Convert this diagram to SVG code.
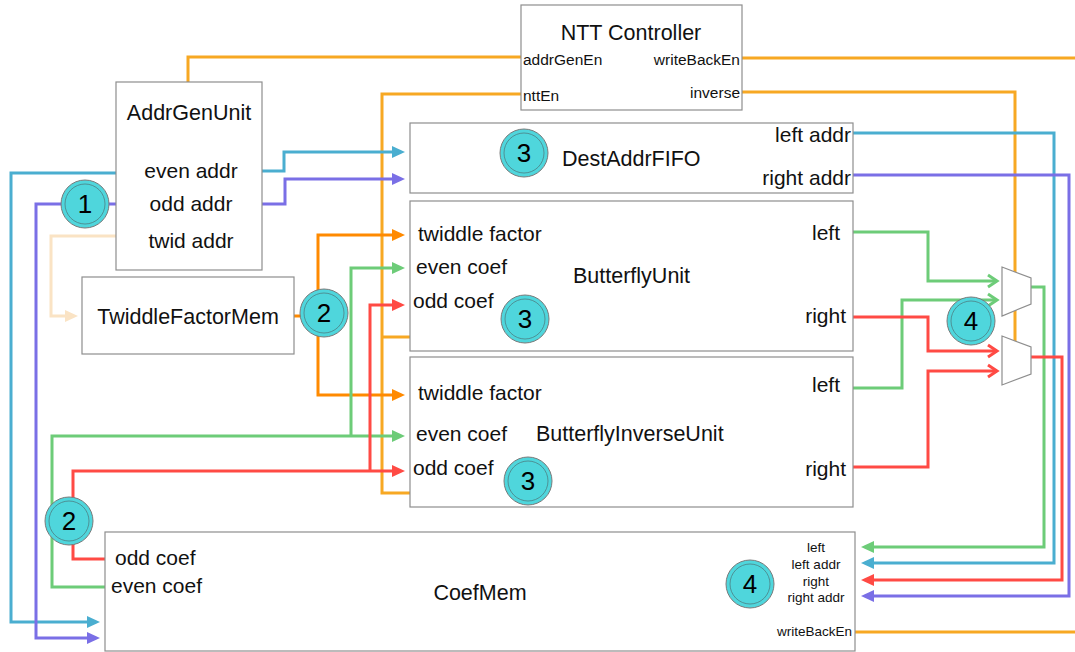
<svg xmlns="http://www.w3.org/2000/svg" width="1075" height="652" viewBox="0 0 1075 652">
  <style>
    .box { fill: #ffffff; stroke: #8e8e8e; stroke-width: 1.2; }
    .mux { fill: #ffffff; stroke: #8e8e8e; stroke-width: 1.2; }
    .t { font-family: "Liberation Sans", Arial, sans-serif; fill: #111; }
    .title { font-size: 21.5px; }
    .port { font-size: 21px; }
    .small { font-size: 15.5px; }
    .tiny { font-size: 13.5px; }
    .mid { text-anchor: middle; }
    .end { text-anchor: end; }
    .w { fill: none; stroke-width: 3; stroke-linejoin: miter; }
    .blue { stroke: #4AAED0; }
    .purple { stroke: #7A6FE6; }
    .green { stroke: #6DCC78; }
    .red { stroke: #FF4A44; }
    .orange { stroke: #FF8A00; }
    .gold { stroke: #F7A823; }
    .beige { stroke: #FAE3C4; }
    .badge { fill: #4FD6DC; stroke: #7a7a7a; stroke-width: 1; }
    .ring { fill: none; stroke: #4d7f83; stroke-width: 0.8; }
    .num { font-family: "Liberation Sans", Arial, sans-serif; font-size: 26px; fill: #000; text-anchor: middle; }
  </style>
  <defs>
    <marker id="aBlue" markerUnits="userSpaceOnUse" markerWidth="13" markerHeight="12" refX="1" refY="6" orient="auto"><path d="M0,0 L13,6 L0,12 z" fill="#4AAED0"/></marker>
    <marker id="aPurple" markerUnits="userSpaceOnUse" markerWidth="13" markerHeight="12" refX="1" refY="6" orient="auto"><path d="M0,0 L13,6 L0,12 z" fill="#7A6FE6"/></marker>
    <marker id="aGreen" markerUnits="userSpaceOnUse" markerWidth="13" markerHeight="12" refX="1" refY="6" orient="auto"><path d="M0,0 L13,6 L0,12 z" fill="#6DCC78"/></marker>
    <marker id="aRed" markerUnits="userSpaceOnUse" markerWidth="13" markerHeight="12" refX="1" refY="6" orient="auto"><path d="M0,0 L13,6 L0,12 z" fill="#FF4A44"/></marker>
    <marker id="aOrange" markerUnits="userSpaceOnUse" markerWidth="13" markerHeight="12" refX="1" refY="6" orient="auto"><path d="M0,0 L13,6 L0,12 z" fill="#FF8A00"/></marker>
    <marker id="aBeige" markerUnits="userSpaceOnUse" markerWidth="13" markerHeight="12" refX="1" refY="6" orient="auto"><path d="M0,0 L13,6 L0,12 z" fill="#FAE3C4"/></marker>
    <marker id="cGreen" markerUnits="userSpaceOnUse" markerWidth="14" markerHeight="16" refX="11" refY="8" orient="auto"><path d="M2,2 L11,8 L2,14" fill="none" stroke="#6DCC78" stroke-width="3"/></marker>
    <marker id="cRed" markerUnits="userSpaceOnUse" markerWidth="14" markerHeight="16" refX="11" refY="8" orient="auto"><path d="M2,2 L11,8 L2,14" fill="none" stroke="#FF4A44" stroke-width="3"/></marker>
  </defs>

  <g id="connectors">
    <!-- controller enables -->
    <path class="w gold" d="M521,57 H188 V82"/>
    <path class="w gold" d="M521,94 H382 V493 H410 M382,337 H410"/>
    <path class="w gold" d="M742,58 H1075"/>
    <path class="w gold" d="M855,632 H1075"/>
    <path class="w gold" d="M742,92 H1015 V341"/>
    <!-- address generator outputs -->
    <path class="w blue" d="M262,171 H284 V152 H393" marker-end="url(#aBlue)"/>
    <path class="w purple" d="M262,204 H285 V179 H393" marker-end="url(#aPurple)"/>
    <path class="w blue" d="M116,173 H11 V622 H88" marker-end="url(#aBlue)"/>
    <path class="w purple" d="M116,204 H36 V638 H88" marker-end="url(#aPurple)"/>
    <path class="w beige" d="M116,236 H51 V316 H66" marker-end="url(#aBeige)"/>
    <!-- twiddle factor fan-out -->
    <path class="w orange" d="M294,316 H318"/>
    <path class="w orange" d="M318,316 V235 H393" marker-end="url(#aOrange)"/>
    <path class="w orange" d="M318,316 V395 H393" marker-end="url(#aOrange)"/>
    <!-- coefficient reads -->
    <path class="w green" d="M105,587 H52 V436 H393" marker-end="url(#aGreen)"/>
    <path class="w green" d="M351,436 V268 H393" marker-end="url(#aGreen)"/>
    <path class="w red" d="M105,559 H73 V471 H393" marker-end="url(#aRed)"/>
    <path class="w red" d="M370,471 V305 H393" marker-end="url(#aRed)"/>
    <!-- destination addresses -->
    <path class="w blue" d="M853,133 H1054 V563 H873" marker-end="url(#aBlue)"/>
    <path class="w purple" d="M853,175 H1069 V596 H873" marker-end="url(#aPurple)"/>
    <!-- butterfly outputs into muxes -->
    <path class="w green" d="M853,232 H928 V281 H997" marker-end="url(#cGreen)"/>
    <path class="w green" d="M853,388 H902 V300 H997" marker-end="url(#cGreen)"/>
    <path class="w red" d="M853,317 H928 V351 H997" marker-end="url(#cRed)"/>
    <path class="w red" d="M853,467 H928 V371 H997" marker-end="url(#cRed)"/>
    <!-- mux outputs back to memory -->
    <path class="w green" d="M1030,287 H1044 V547 H873" marker-end="url(#aGreen)"/>
    <path class="w red" d="M1030,357 H1062 V580 H873" marker-end="url(#aRed)"/>
  </g>

  <g id="ntt-controller">
    <rect class="box" x="521" y="5" width="221" height="105"/>
    <text class="t title mid" x="631" y="40">NTT Controller</text>
    <text class="t small" x="523" y="65">addrGenEn</text>
    <text class="t small" x="523" y="101">nttEn</text>
    <text class="t small end" x="740" y="65">writeBackEn</text>
    <text class="t small end" x="740" y="98">inverse</text>
  </g>

  <g id="addr-gen-unit">
    <rect class="box" x="116" y="82" width="146" height="188"/>
    <text class="t title mid" x="189" y="120">AddrGenUnit</text>
    <text class="t port mid" x="191" y="178">even addr</text>
    <text class="t port mid" x="191" y="211">odd addr</text>
    <text class="t port mid" x="191" y="248">twid addr</text>
  </g>

  <g id="twiddle-factor-mem">
    <rect class="box" x="82" y="277" width="212" height="77"/>
    <text class="t title mid" x="188" y="324">TwiddleFactorMem</text>
  </g>

  <g id="dest-addr-fifo">
    <rect class="box" x="410" y="123" width="443" height="70"/>
    <text class="t title" x="562" y="166">DestAddrFIFO</text>
    <text class="t port end" x="851" y="142">left addr</text>
    <text class="t port end" x="851" y="185">right addr</text>
  </g>

  <g id="butterfly-unit">
    <rect class="box" x="410" y="201" width="443" height="150"/>
    <text class="t port" x="418" y="241">twiddle factor</text>
    <text class="t port" x="416" y="274">even coef</text>
    <text class="t port" x="413" y="308">odd coef</text>
    <text class="t title" x="573" y="283">ButterflyUnit</text>
    <text class="t port end" x="840" y="240">left</text>
    <text class="t port end" x="846" y="323">right</text>
  </g>

  <g id="butterfly-inverse-unit">
    <rect class="box" x="410" y="357" width="443" height="150"/>
    <text class="t port" x="418" y="400">twiddle factor</text>
    <text class="t port" x="416" y="441">even coef</text>
    <text class="t port" x="413" y="475">odd coef</text>
    <text class="t title" x="536" y="441">ButterflyInverseUnit</text>
    <text class="t port end" x="840" y="392">left</text>
    <text class="t port end" x="846" y="476">right</text>
  </g>

  <g id="coef-mem">
    <rect class="box" x="105" y="532" width="750" height="119"/>
    <text class="t port" x="115" y="565">odd coef</text>
    <text class="t port" x="111" y="593">even coef</text>
    <text class="t title mid" x="480" y="600">CoefMem</text>
    <text class="t tiny mid" x="816" y="552">left</text>
    <text class="t tiny mid" x="816" y="569">left addr</text>
    <text class="t tiny mid" x="816" y="586">right</text>
    <text class="t tiny mid" x="816" y="602">right addr</text>
    <text class="t tiny end" x="852" y="636">writeBackEn</text>
  </g>

  <g id="mux-left">
    <polygon class="mux" points="1002,267 1031,278 1031,304 1002,316"/>
  </g>
  <g id="mux-right">
    <polygon class="mux" points="1002,336 1031,347 1031,374 1002,385"/>
  </g>

  <g id="badges">
    <g id="badge-1"><circle class="badge" cx="85" cy="204" r="24"/><circle class="ring" cx="85" cy="204" r="20"/><text class="num" x="85" y="213">1</text></g>
    <g id="badge-2a"><circle class="badge" cx="324" cy="313" r="24"/><circle class="ring" cx="324" cy="313" r="20"/><text class="num" x="324" y="322">2</text></g>
    <g id="badge-2b"><circle class="badge" cx="69" cy="521" r="24"/><circle class="ring" cx="69" cy="521" r="20"/><text class="num" x="69" y="530">2</text></g>
    <g id="badge-3a"><circle class="badge" cx="524" cy="153" r="24"/><circle class="ring" cx="524" cy="153" r="20"/><text class="num" x="524" y="162">3</text></g>
    <g id="badge-3b"><circle class="badge" cx="525" cy="319" r="24"/><circle class="ring" cx="525" cy="319" r="20"/><text class="num" x="525" y="328">3</text></g>
    <g id="badge-3c"><circle class="badge" cx="528" cy="481" r="24"/><circle class="ring" cx="528" cy="481" r="20"/><text class="num" x="528" y="490">3</text></g>
    <g id="badge-4a"><circle class="badge" cx="971" cy="321" r="24"/><circle class="ring" cx="971" cy="321" r="20"/><text class="num" x="971" y="330">4</text></g>
    <g id="badge-4b"><circle class="badge" cx="750" cy="584" r="24"/><circle class="ring" cx="750" cy="584" r="20"/><text class="num" x="750" y="593">4</text></g>
  </g>
</svg>
